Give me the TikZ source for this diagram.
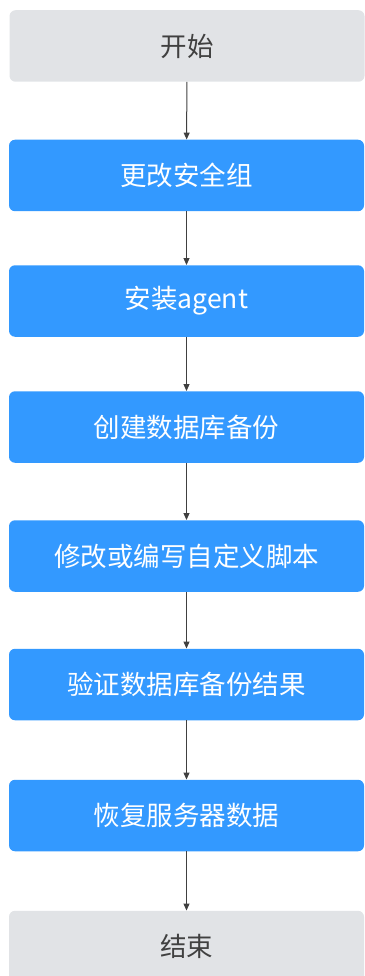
\documentclass[tikz,border=0pt]{standalone}
\usepackage{fontspec}
\setmainfont{Noto Sans CJK SC}
\usetikzlibrary{arrows.meta}
\definecolor{boxblue}{RGB}{51,153,255}
\definecolor{boxgray}{RGB}{225,227,230}
\definecolor{txtgray}{RGB}{64,64,64}
\definecolor{arrgray}{RGB}{64,64,64}
\tikzset{
  basebox/.style={rectangle, rounded corners=6pt, minimum width=355pt, minimum height=71.5pt, inner sep=0pt, font=\fontsize{26.5}{30}\selectfont},
  termbox/.style={basebox, fill=boxgray, text=txtgray},
  stepbox/.style={basebox, fill=boxblue, text=white},
  flowarrow/.style={draw=arrgray, line width=1pt, -{Triangle[length=7pt,width=6pt]}}
}
\begin{document}
\begin{tikzpicture}[x=1pt,y=1pt]
\useasboundingbox (0,0) rectangle (364,-976);
\node[termbox] (start) at (187,-46) {开始};
\node[stepbox] (s1) at (186.5,-175.5) {更改安全组};
\node[stepbox] (s2) at (186.5,-301) {安装agent};
\node[stepbox] (s3) at (186.5,-427) {创建数据库备份};
\node[stepbox] (s4) at (186.5,-556) {修改或编写自定义脚本};
\node[stepbox] (s5) at (186.5,-684.5) {验证数据库备份结果};
\node[stepbox] (s6) at (186.5,-815.5) {恢复服务器数据};
\node[termbox] (end) at (186.5,-946.5) {结束};
\draw[flowarrow] (start) -- (s1);
\draw[flowarrow] (s1) -- (s2);
\draw[flowarrow] (s2) -- (s3);
\draw[flowarrow] (s3) -- (s4);
\draw[flowarrow] (s4) -- (s5);
\draw[flowarrow] (s5) -- (s6);
\draw[flowarrow] (s6) -- (end);
\end{tikzpicture}
\end{document}
